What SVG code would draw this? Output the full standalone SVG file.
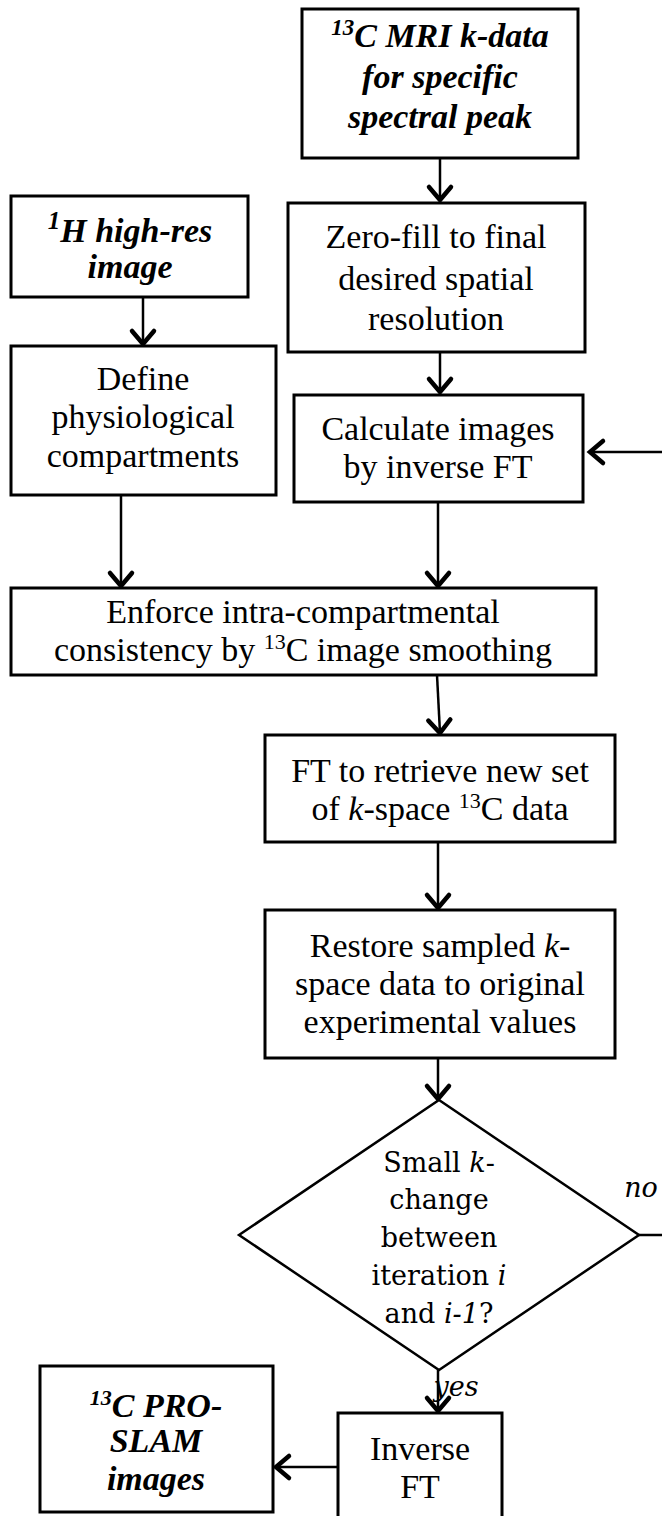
<svg xmlns="http://www.w3.org/2000/svg" width="662" height="1516" viewBox="0 0 662 1516">
  <defs>
    <marker id="chev" markerUnits="userSpaceOnUse" markerWidth="30" markerHeight="30" refX="0" refY="0" orient="auto" overflow="visible">
      <path d="M -13 -11 L 0 0 L -13 11" fill="none" stroke="#000" stroke-width="4.5" stroke-linecap="round" stroke-linejoin="miter"/>
    </marker>
    <style>
      .box { fill: #fff; stroke: #000; stroke-width: 3; }
      .dia { fill: #fff; stroke: #000; stroke-width: 2.5; }
      .edge { fill: none; stroke: #000; stroke-width: 2.5; marker-end: url(#chev); }
      .plain { fill: none; stroke: #000; stroke-width: 2.5; }
      .t { font-family: "Liberation Serif", "Times New Roman", serif; font-size: 34px; fill: #000; text-anchor: middle; }
      .bi { font-weight: bold; font-style: italic; }
      .c { font-family: "DejaVu Serif", "Liberation Serif", serif; font-size: 27px; fill: #000; text-anchor: middle; }
      .it { font-style: italic; }
    </style>
  </defs>

  <!-- connectors -->
  <g id="connectors">
    <line class="edge" x1="440" y1="158" x2="440" y2="200"/>
    <line class="edge" x1="143" y1="297" x2="143" y2="344"/>
    <line class="edge" x1="440" y1="352" x2="440" y2="392"/>
    <line class="edge" x1="121" y1="495" x2="121" y2="586"/>
    <line class="edge" x1="438" y1="502" x2="438" y2="586"/>
    <line class="edge" x1="437" y1="675" x2="440" y2="733"/>
    <line class="edge" x1="438" y1="842" x2="438" y2="908"/>
    <line class="edge" x1="438" y1="1058" x2="438" y2="1099"/>
    <line class="edge" x1="438" y1="1370" x2="438" y2="1411"/>
    <line class="edge" x1="338" y1="1467" x2="276" y2="1467"/>
    <polyline class="edge" points="639,1235 672,1235 672,452 590,452"/>
  </g>

  <g id="n-c13-kdata">
    <rect class="box" x="302" y="9" width="276" height="149"/>
    <text class="t bi" x="440" y="47" font-size="35"><tspan font-size="23" dy="-12">13</tspan><tspan dy="12">C MRI k-data</tspan></text>
    <text class="t bi" x="440" y="88" font-size="35">for specific</text>
    <text class="t bi" x="440" y="128" font-size="35">spectral peak</text>
  </g>

  <g id="n-h1-image">
    <rect class="box" x="11" y="196" width="237" height="101"/>
    <text class="t bi" x="130" y="242" font-size="38"><tspan font-size="25" dy="-13">1</tspan><tspan dy="13">H high-res</tspan></text>
    <text class="t bi" x="130" y="278" font-size="38">image</text>
  </g>

  <g id="n-zerofill">
    <rect class="box" x="288" y="203" width="297" height="149"/>
    <text class="t" x="436" y="248">Zero-fill to final</text>
    <text class="t" x="436" y="290">desired spatial</text>
    <text class="t" x="436" y="330">resolution</text>
  </g>

  <g id="n-define">
    <rect class="box" x="11" y="346" width="265" height="149"/>
    <text class="t" x="143" y="390" font-size="42">Define</text>
    <text class="t" x="143" y="428" font-size="42">physiological</text>
    <text class="t" x="143" y="467" font-size="42">compartments</text>
  </g>

  <g id="n-calc">
    <rect class="box" x="294" y="395" width="289" height="107"/>
    <text class="t" x="438" y="440">Calculate images</text>
    <text class="t" x="438" y="478">by inverse FT</text>
  </g>

  <g id="n-enforce">
    <rect class="box" x="11" y="588" width="585" height="87"/>
    <text class="t" x="303" y="623">Enforce intra-compartmental</text>
    <text class="t" x="303" y="661">consistency by <tspan font-size="22" dy="-12">13</tspan><tspan dy="12">C image smoothing</tspan></text>
  </g>

  <g id="n-ft">
    <rect class="box" x="265" y="735" width="350" height="107"/>
    <text class="t" x="440" y="782">FT to retrieve new set</text>
    <text class="t" x="440" y="820">of <tspan class="it">k</tspan>-space <tspan font-size="22" dy="-12">13</tspan><tspan dy="12">C data</tspan></text>
  </g>

  <g id="n-restore">
    <rect class="box" x="265" y="910" width="350" height="148"/>
    <text class="t" x="440" y="957">Restore sampled <tspan class="it">k</tspan>-</text>
    <text class="t" x="440" y="995">space data to original</text>
    <text class="t" x="440" y="1033">experimental values</text>
  </g>

  <g id="n-decision">
    <polygon class="dia" points="439,1100 639,1235 439,1370 239,1235"/>
    <text class="c" x="439" y="1172">Small <tspan class="it">k</tspan>-</text>
    <text class="c" x="439" y="1209">change</text>
    <text class="c" x="439" y="1247">between</text>
    <text class="c" x="439" y="1285">iteration <tspan class="it">i</tspan></text>
    <text class="c" x="439" y="1323">and <tspan class="it">i-1</tspan>?</text>
    <text class="c it" x="641" y="1197">no</text>
    <text class="c it" x="456" y="1396" text-anchor="start">yes</text>
  </g>

  <g id="n-inverse">
    <rect class="box" x="338" y="1413" width="164" height="120"/>
    <text class="t" x="420" y="1460">Inverse</text>
    <text class="t" x="420" y="1498">FT</text>
  </g>

  <g id="n-proslam">
    <rect class="box" x="40" y="1366" width="233" height="146"/>
    <text class="t bi" x="156" y="1417"><tspan font-size="22" dy="-12">13</tspan><tspan dy="12">C PRO-</tspan></text>
    <text class="t bi" x="156" y="1452">SLAM</text>
    <text class="t bi" x="156" y="1490">images</text>
  </g>
</svg>
